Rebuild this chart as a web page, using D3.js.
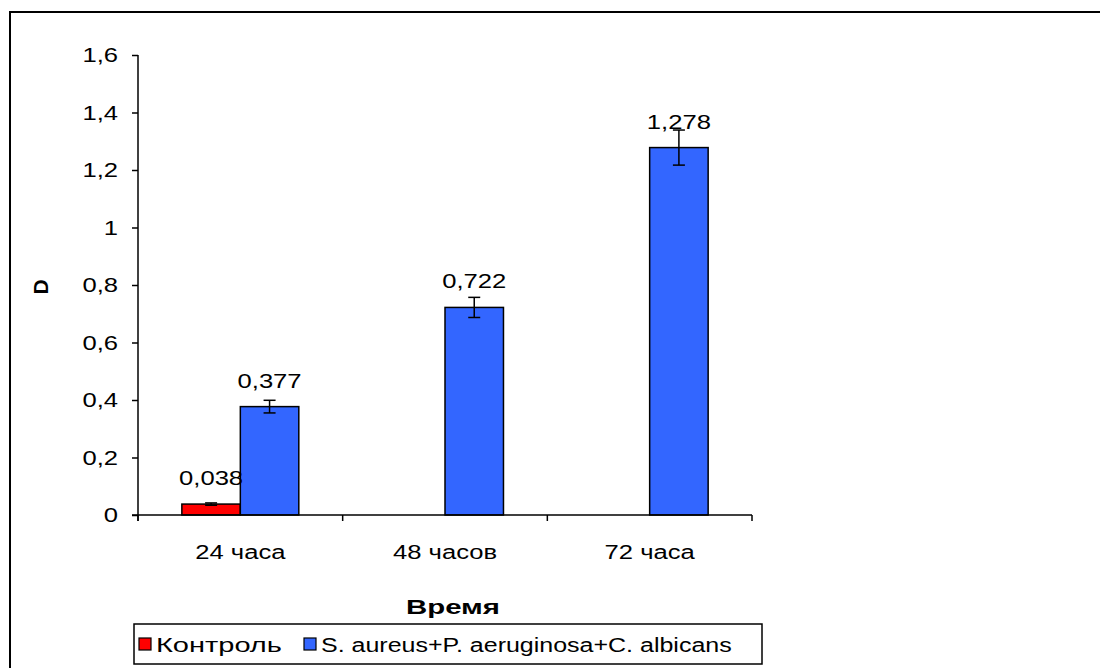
<!DOCTYPE html>
<html>
<head>
<meta charset="utf-8">
<script src="https://cdn.jsdelivr.net/npm/d3@7"></script>
<style>
  body { margin: 0; background: #fff; }
  svg { display: block; font-family: "Liberation Sans", Arial, sans-serif; }
</style>
</head>
<body>
<script>
const categories = ['24 часа', '48 часов', '72 часа'];
const seriesNames = ['Контроль', 'S. aureus+P. aeruginosa+C. albicans'];
const controlValues = [0.038, null, null];
const controlErrors = [0.004, null, null];
const mixValues = [0.377, 0.722, 1.278];
const mixErrors = [0.022, 0.035, 0.061];
const yTicks = [0, 0.2, 0.4, 0.6, 0.8, 1, 1.2, 1.4, 1.6];
const colors = ['#ff0000', '#3366ff'];

const w = 1100;
const h = 668;
const sx = 1.22; // text in the original is drawn a bit wide

const locale = d3.formatLocale({decimal: ',', thousands: ' ', grouping: [3], currency: ['', '']});
const fmtTick = locale.format('~f');
const fmtVal = locale.format('.3f');

const rows = [];
categories.forEach((c, i) => {
  if (controlValues[i] != null) rows.push({cat: c, s: 0, v: controlValues[i], e: controlErrors[i]});
  if (mixValues[i] != null) rows.push({cat: c, s: 1, v: mixValues[i], e: mixErrors[i]});
});

const x = d3.scaleBand().domain(categories).range([138, 752]).padding(0);
const xs = d3.scaleBand().domain([0, 1]).range([0, x.bandwidth()])
  .paddingInner(0).paddingOuter(0.75);
const y = d3.scaleLinear().domain([0, 1.6]).range([515, 55]);

const svg = d3.select('body').append('svg')
  .attr('width', w).attr('height', h);

function stretch(sel, k) {
  sel.each(function(d, i) {
    const kk = typeof k === 'function' ? k(d, i) : k;
    const t = d3.select(this);
    const tx = +t.attr('x') || 0;
    t.attr('x', tx / kk).attr('transform', `scale(${kk},1)`);
  });
}

// outer frame
svg.append('rect')
  .attr('x', 10).attr('y', 12)
  .attr('width', 1200).attr('height', 800)
  .attr('fill', 'none').attr('stroke', '#000').attr('stroke-width', 2);

// bars
svg.selectAll('rect.bar')
  .data(rows)
  .enter().append('rect')
    .attr('class', 'bar')
    .attr('x', d => x(d.cat) + xs(d.s))
    .attr('y', d => y(d.v))
    .attr('width', xs.bandwidth())
    .attr('height', d => y(0) - y(d.v))
    .attr('fill', d => colors[d.s])
    .attr('stroke', '#000')
    .attr('stroke-width', 1.5);

// error bars
const err = svg.selectAll('g.err')
  .data(rows)
  .enter().append('g')
    .attr('class', 'err')
    .attr('transform', d => `translate(${x(d.cat) + xs(d.s) + xs.bandwidth() / 2},0)`)
    .attr('stroke', '#000').attr('stroke-width', 1.5);
err.append('line')
  .attr('y1', d => y(d.v + d.e)).attr('y2', d => y(d.v - d.e));
err.append('line')
  .attr('x1', -6).attr('x2', 6)
  .attr('y1', d => y(d.v + d.e)).attr('y2', d => y(d.v + d.e));
err.append('line')
  .attr('x1', -6).attr('x2', 6)
  .attr('y1', d => y(d.v - d.e)).attr('y2', d => y(d.v - d.e));

// value labels
svg.selectAll('text.val')
  .data(rows)
  .enter().append('text')
    .attr('class', 'val')
    .attr('x', d => x(d.cat) + xs(d.s) + xs.bandwidth() / 2)
    .attr('y', d => y(d.v) - 19)
    .attr('text-anchor', 'middle')
    .style('font-size', '21px')
    .text(d => fmtVal(d.v))
    .call(stretch, sx);

// y axis
const yAxis = svg.append('g')
  .attr('transform', 'translate(138,0)')
  .call(d3.axisLeft(y).tickValues(yTicks).tickFormat(fmtTick).tickSize(6).tickPadding(14));
yAxis.select('.domain').attr('d', `M0,${y(1.6)}V${y(0) + 6}`);

// x axis
const xAxis = svg.append('g')
  .attr('transform', 'translate(0,515)')
  .call(d3.axisBottom(x).tickSize(0).tickPadding(29));
xAxis.select('.domain').attr('d', `M132,0H752`);
xAxis.selectAll('.sep')
  .data(categories.map(c => x(c)).concat([x.range()[1]]))
  .enter().append('line')
    .attr('class', 'sep')
    .attr('x1', d => d).attr('x2', d => d)
    .attr('y1', 0).attr('y2', 6)
    .attr('stroke', '#000').attr('stroke-width', 1.5);

svg.selectAll('.tick text').style('font-size', '21px').attr('fill', '#000').call(stretch, sx);
svg.selectAll('.domain, .tick line').attr('stroke', '#000').attr('stroke-width', 1.5);

// axis titles
svg.append('text')
  .attr('transform', 'translate(48,287) rotate(-90)')
  .attr('text-anchor', 'middle')
  .style('font-size', '21px').style('font-weight', 'bold')
  .text('D');

svg.append('text')
  .attr('x', 453).attr('y', 614)
  .attr('text-anchor', 'middle')
  .style('font-size', '21px').style('font-weight', 'bold')
  .text('Время')
  .call(stretch, 1.4);

// legend
const legend = svg.append('g');
legend.append('rect')
  .attr('x', 134).attr('y', 624)
  .attr('width', 628).attr('height', 40)
  .attr('fill', '#fff').attr('stroke', '#000').attr('stroke-width', 1.5);
const legendX = [139, 304];
const li = legend.selectAll('g.item')
  .data(seriesNames)
  .enter().append('g')
    .attr('class', 'item')
    .attr('transform', (d, i) => `translate(${legendX[i]},0)`);
li.append('rect')
  .attr('x', 0).attr('y', 638)
  .attr('width', 12).attr('height', 12)
  .attr('fill', (d, i) => colors[i])
  .attr('stroke', '#000').attr('stroke-width', 1.2);
li.append('text')
  .attr('x', 17).attr('y', 652)
  .style('font-size', '20px')
  .text(d => d)
  .call(stretch, (d, i) => i === 0 ? 1.45 : 1.25);
</script>
</body>
</html>
